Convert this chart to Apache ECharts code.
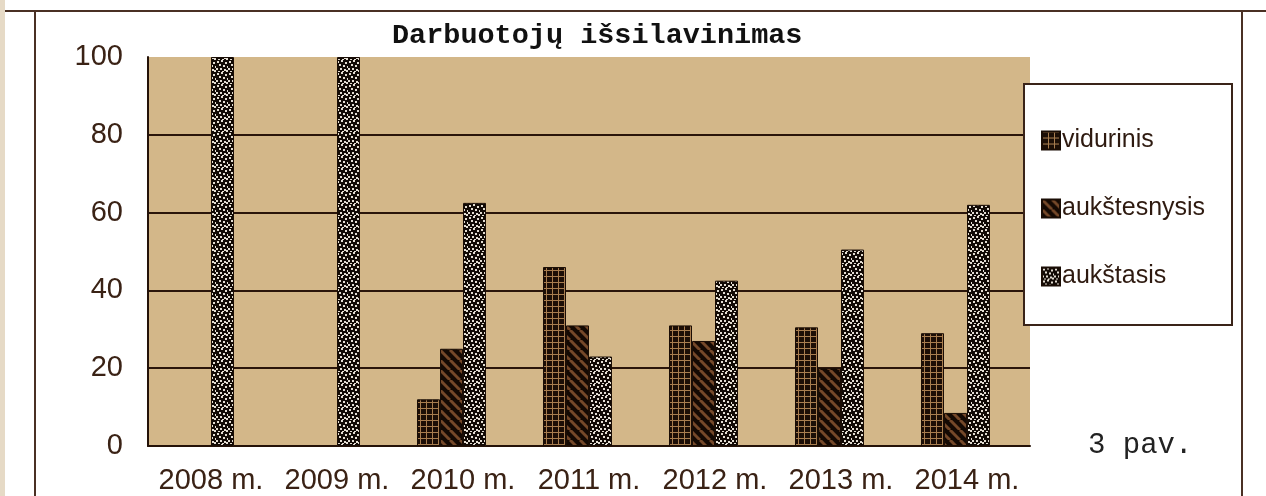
<!DOCTYPE html>
<html>
<head>
<meta charset="utf-8">
<script src="https://cdn.jsdelivr.net/npm/echarts@6/dist/echarts.min.js"></script>
<style>
  html, body { margin: 0; padding: 0; background: #fff; }
  #chart { width: 1266px; height: 496px; }
</style>
</head>
<body>
<div id="chart"></div>
<script>
const years = ['2008 m.', '2009 m.', '2010 m.', '2011 m.', '2012 m.', '2013 m.', '2014 m.']
const vidurinis = [null, null, 12, 46, 31, 30.5, 29]
const aukstesnysis = [null, null, 25, 31, 27, 20, 8.5]
const aukstasis = [100, 100, 62.5, 23, 42.5, 50.5, 62]
// empty fourth slot the original chart reserves in every year
const tuscias = [null, null, null, null, null, null, null]
const yTicks = [0, 20, 40, 60, 80, 100]

const dark = '#3a2215'
const plotBg = '#d3b789'

// fill patterns like the old office chart
const makePattern = (kind) => {
  const c = document.createElement('canvas')
  const ctx = c.getContext('2d')
  if (kind === 'grid') {
    c.width = 6; c.height = 6
    ctx.fillStyle = '#1c0e06'
    ctx.fillRect(0, 0, 6, 6)
    ctx.fillStyle = '#a87d4f'
    ctx.fillRect(0, 0, 1, 6)
    ctx.fillRect(0, 0, 6, 1)
  } else if (kind === 'diag') {
    c.width = 10; c.height = 10
    ctx.fillStyle = '#140903'
    ctx.fillRect(0, 0, 10, 10)
    ctx.strokeStyle = '#754829'
    ctx.lineWidth = 3
    ;[-10, 0, 10].forEach(o => {
      ctx.beginPath()
      ctx.moveTo(o, 0)
      ctx.lineTo(o + 10, 10)
      ctx.stroke()
    })
  } else {
    c.width = 12; c.height = 12
    ctx.fillStyle = '#120a05'
    ctx.fillRect(0, 0, 12, 12)
    ctx.fillStyle = '#e4ddd2'
    const dots = [[1, 1], [5, 0], [9, 2], [3, 4], [7, 5], [11, 6], [0, 8], [4, 8], [8, 9], [2, 11], [6, 11], [10, 10]]
    dots.forEach(([x, y]) => ctx.fillRect(x, y, 2, 2))
  }
  return { image: c, repeat: 'repeat' }
}

const chart = echarts.init(document.getElementById('chart'))

const barStyle = (kind) => ({
  color: makePattern(kind),
  borderColor: '#1a0d05',
  borderWidth: 1
})

chart.setOption({
  animation: false,
  backgroundColor: '#fff',
  title: {
    text: 'Darbuotojų išsilavinimas',
    left: 387,
    top: 16,
    textStyle: { fontFamily: 'Liberation Mono', fontWeight: 'bold', fontSize: 28.5, color: '#111' }
  },
  graphic: [
    { type: 'rect', shape: { x: 0, y: 0, width: 5, height: 496 }, style: { fill: '#e6dac6' } },
    { type: 'line', shape: { x1: 5, y1: 11, x2: 1266, y2: 11 }, style: { stroke: '#4a3024', lineWidth: 2 } },
    { type: 'line', shape: { x1: 35, y1: 11, x2: 35, y2: 496 }, style: { stroke: '#4a3024', lineWidth: 2 } },
    { type: 'line', shape: { x1: 1242, y1: 11, x2: 1242, y2: 496 }, style: { stroke: '#4a3024', lineWidth: 2 } },
    {
      type: 'rect', z: 5,
      shape: { x: 1024, y: 84, width: 208, height: 241 },
      style: { fill: '#fff', stroke: '#3a2419', lineWidth: 2 }
    },
    {
      type: 'text', left: 1088, top: 431,
      style: { text: '3 pav.', font: '29px "Liberation Mono"', fill: '#222' }
    }
  ],
  legend: {
    data: ['vidurinis', 'aukštesnysis', 'aukštasis'],
    orient: 'vertical',
    left: 1036,
    top: 123,
    z: 10,
    icon: 'rect',
    itemWidth: 18,
    itemHeight: 18,
    itemGap: 43,
    textStyle: { fontFamily: 'Liberation Sans', fontSize: 25, color: '#2e1a10', padding: [0, 0, 0, -3] }
  },
  grid: {
    left: 148, right: 236, top: 57, bottom: 50,
    show: true, backgroundColor: plotBg, borderWidth: 0
  },
  xAxis: {
    type: 'category',
    data: years,
    axisLine: { lineStyle: { color: '#241208', width: 2 } },
    axisTick: { inside: true, length: 8, lineStyle: { color: '#241208', width: 2 } },
    axisLabel: { interval: 0, fontFamily: 'Liberation Sans', fontSize: 29, color: dark, margin: 20 }
  },
  yAxis: {
    type: 'value',
    min: yTicks[0],
    max: yTicks[yTicks.length - 1],
    interval: 20,
    axisLine: { show: true, lineStyle: { color: '#241208', width: 2 } },
    axisTick: { show: false },
    splitLine: { showMaxLine: false, showMinLine: false, lineStyle: { color: '#2a150a', width: 2 } },
    axisLabel: { fontFamily: 'Liberation Sans', fontSize: 29, color: dark, margin: 25 }
  },
  series: [
    { name: 'vidurinis', type: 'bar', data: vidurinis, barGap: '0%', barCategoryGap: '27%', itemStyle: barStyle('grid') },
    { name: 'aukštesnysis', type: 'bar', data: aukstesnysis, itemStyle: barStyle('diag') },
    { name: 'aukštasis', type: 'bar', data: aukstasis, itemStyle: barStyle('dots') },
    { name: 'tuščias', type: 'bar', data: tuscias }
  ]
})
</script>
</body>
</html>
